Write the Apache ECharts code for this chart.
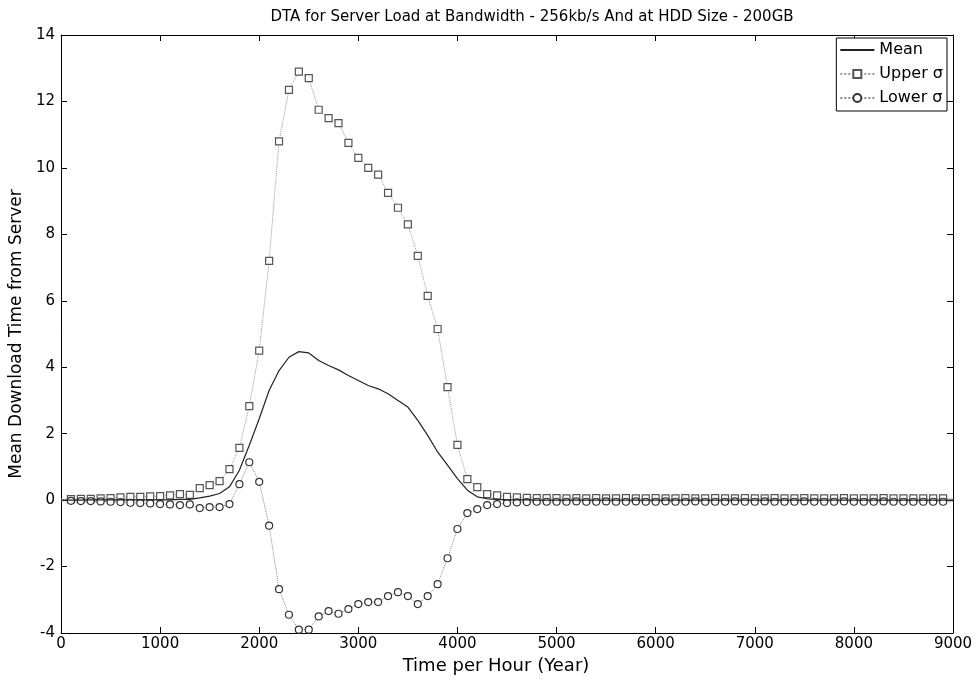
<!DOCTYPE html>
<html><head><meta charset="utf-8">
<script src="https://cdn.jsdelivr.net/npm/echarts@6/dist/echarts.min.js"></script>
<style>html,body{margin:0;padding:0;background:#fff}#c{width:980px;height:682px}</style>
</head><body><div id="c"></div>
<script>
var titleText = 'DTA for Server Load at Bandwidth - 256kb/s And at HDD Size - 200GB';
var xLabel = 'Time per Hour (Year)';
var yLabel = 'Mean Download Time from Server';
var seriesNames = ['Mean', 'Upper \u03c3', 'Lower \u03c3'];

var hours = [0,100,200,300,400,500,600,700,800,900,
  1000,1100,1200,1300,1400,1500,1600,1700,1800,1900,
  2000,2100,2200,2300,2400,2500,2600,2700,2800,2900,
  3000,3100,3200,3300,3400,3500,3600,3700,3800,3900,
  4000,4100,4200,4300,4400,4500,4600,4700,4800,4900,
  5000,5100,5200,5300,5400,5500,5600,5700,5800,5900,
  6000,6100,6200,6300,6400,6500,6600,6700,6800,6900,
  7000,7100,7200,7300,7400,7500,7600,7700,7800,7900,
  8000,8100,8200,8300,8400,8500,8600,8700,8800,8900,9000];

var meanVals = [0.00,0.00,0.00,0.01,0.01,0.01,0.01,0.01,0.01,0.01,
  0.01,0.01,0.02,0.02,0.07,0.12,0.2,0.4,0.9,1.65,
  2.45,3.3,3.9,4.3,4.47,4.43,4.2,4.05,3.92,3.75,
  3.6,3.45,3.35,3.2,3.0,2.8,2.4,1.95,1.45,1.05,
  0.65,0.3,0.1,0.04,0.02,0.01,0.01,0.01,0.0,0.0,
  0.0,0.0,0.0,0.0,0.0,0.0,0.0,0.0,0.0,0.0,
  0.0,0.0,0.0,0.0,0.0,0.0,0.0,0.0,0.0,0.0,
  0.0,0.0,0.0,0.0,0.0,0.0,0.0,0.0,0.0,0.0,
  0.0,0.0,0.0,0.0,0.0,0.0,0.0,0.0,0.0,0.0,0.0];

var upperVals = [0.03,0.03,0.04,0.04,0.05,0.06,0.08,0.1,0.1,0.11,
  0.12,0.14,0.18,0.16,0.36,0.45,0.57,0.93,1.57,2.83,
  4.5,7.2,10.8,12.35,12.9,12.7,11.75,11.5,11.35,10.75,
  10.3,10.0,9.8,9.25,8.8,8.3,7.35,6.15,5.15,3.4,
  1.66,0.63,0.39,0.18,0.14,0.1,0.08,0.07,0.06,0.06,
  0.06,0.05,0.06,0.05,0.06,0.05,0.05,0.06,0.05,0.05,
  0.06,0.05,0.05,0.06,0.05,0.05,0.06,0.05,0.05,0.06,
  0.05,0.05,0.06,0.05,0.05,0.06,0.05,0.05,0.05,0.06,
  0.05,0.05,0.05,0.06,0.05,0.05,0.05,0.05,0.05,0.05,0.05];

var lowerVals = [-0.02,-0.02,-0.03,-0.03,-0.04,-0.05,-0.06,-0.08,-0.09,-0.1,
  -0.12,-0.13,-0.15,-0.13,-0.24,-0.21,-0.21,-0.12,0.48,1.14,
  0.55,-0.77,-2.68,-3.45,-3.9,-3.9,-3.5,-3.34,-3.42,-3.28,
  -3.13,-3.07,-3.07,-2.89,-2.77,-2.89,-3.13,-2.89,-2.53,-1.75,
  -0.87,-0.39,-0.27,-0.15,-0.12,-0.09,-0.07,-0.06,-0.05,-0.05,
  -0.05,-0.05,-0.04,-0.05,-0.05,-0.04,-0.05,-0.05,-0.04,-0.05,
  -0.05,-0.04,-0.05,-0.05,-0.04,-0.05,-0.05,-0.05,-0.04,-0.05,
  -0.05,-0.04,-0.05,-0.05,-0.05,-0.04,-0.05,-0.05,-0.05,-0.04,
  -0.05,-0.05,-0.05,-0.04,-0.05,-0.05,-0.05,-0.05,-0.05,-0.05,-0.05];

var xMin = 0, xMax = 9000, xStep = 1000;
var yMin = -4, yMax = 14, yStep = 2;

function pairs(vals, withMarkers) {
  return hours.map(function (h, i) {
    var item = { value: [h, vals[i]] };
    if (withMarkers && (h === xMin || h === xMax)) item.symbol = 'none';
    return item;
  });
}

var font = '"DejaVu Sans", "Liberation Sans", Arial, sans-serif';
var axisCommon = {
  type: 'value', splitLine: { show: false },
  axisLine: { show: true, onZero: false, lineStyle: { color: '#000', width: 1 } },
  axisTick: { show: true, inside: true, length: 6, lineStyle: { color: '#000' } }
};
function plain(v) { return String(v); }

var chart = echarts.init(document.getElementById('c'), null, { renderer: 'canvas' });
chart.setOption({
  backgroundColor: '#fff',
  animation: false,
  title: {
    text: titleText, left: 527, textAlign: 'center', top: 5,
    textStyle: { fontFamily: font, fontSize: 15, fontWeight: 'normal', color: '#000' }
  },
  legend: {
    data: seriesNames, orient: 'vertical', right: 33, top: 38,
    backgroundColor: '#fff', borderColor: '#000', borderWidth: 1,
    padding: [4, 4, 5, 3], itemGap: 8, itemWidth: 34, itemHeight: 10,
    textStyle: { fontFamily: font, fontSize: 16, color: '#000' }
  },
  grid: { left: 53, right: 27, top: 35, bottom: 49, containLabel: false },
  xAxis: [
    Object.assign({}, axisCommon, {
      min: xMin, max: xMax, interval: xStep, position: 'bottom',
      name: xLabel, nameLocation: 'middle', nameGap: 21,
      nameTextStyle: { fontFamily: font, fontSize: 18, color: '#000', padding: [0, 22, 0, 0] },
      axisLabel: { fontFamily: font, fontSize: 15, color: '#000', margin: 4, formatter: plain }
    }),
    Object.assign({}, axisCommon, {
      min: xMin, max: xMax, interval: xStep, position: 'top',
      axisLabel: { show: false }
    })
  ],
  yAxis: [
    Object.assign({}, axisCommon, {
      min: yMin, max: yMax, interval: yStep, position: 'left',
      name: yLabel, nameLocation: 'middle', nameGap: 30, nameRotate: 90,
      nameTextStyle: { fontFamily: font, fontSize: 17, color: '#000' },
      axisLabel: { fontFamily: font, fontSize: 15, color: '#000', margin: 6, formatter: plain }
    }),
    Object.assign({}, axisCommon, {
      min: yMin, max: yMax, interval: yStep, position: 'right',
      axisLabel: { show: false }
    })
  ],
  series: [
    {
      name: seriesNames[0], type: 'line', xAxisIndex: 0, yAxisIndex: 0,
      data: pairs(meanVals, false), showSymbol: false, symbol: 'none',
      lineStyle: { color: '#222', width: 1.2 }, itemStyle: { color: '#222', opacity: 0 }, z: 5
    },
    {
      name: seriesNames[1], type: 'line', xAxisIndex: 0, yAxisIndex: 0,
      data: pairs(upperVals, true), symbol: 'rect', symbolSize: 7, showAllSymbol: true,
      lineStyle: { color: '#999', width: 1, type: 'dotted' },
      itemStyle: { color: '#fff', borderColor: '#555', borderWidth: 1.2 }, z: 3
    },
    {
      name: seriesNames[2], type: 'line', xAxisIndex: 0, yAxisIndex: 0,
      data: pairs(lowerVals, true), symbol: 'circle', symbolSize: 7, showAllSymbol: true,
      lineStyle: { color: '#888', width: 1, type: 'dotted' },
      itemStyle: { color: '#fff', borderColor: '#333', borderWidth: 1.2 }, z: 4
    }
  ]
});
</script></body></html>
